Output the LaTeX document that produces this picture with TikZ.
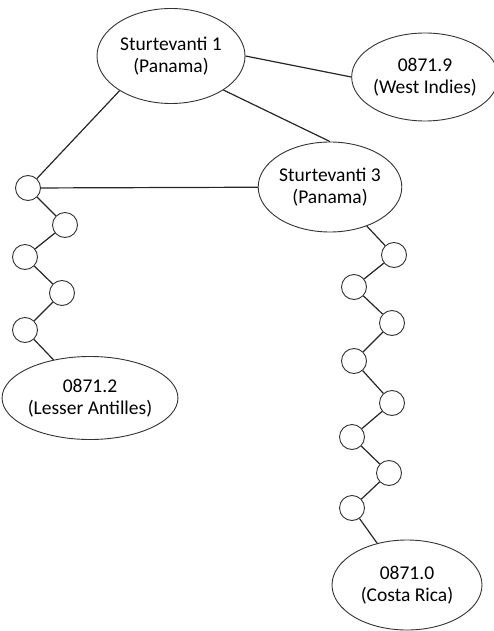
\documentclass[tikz,border=0pt]{standalone}
\usepackage{fontspec}
\setmainfont{Carlito}
\usetikzlibrary{shapes.geometric}

\begin{document}
\begin{tikzpicture}[x=1pt,y=-1pt,
    isolate/.style={ellipse,draw=black!80,line width=.9pt,inner sep=0pt,fill=white,
                    align=center,font=\fontsize{19.5}{22.5}\selectfont},
    missing/.style={circle,draw=black!80,line width=.9pt,fill=white,
                    minimum size=25pt,inner sep=0pt},
    link/.style={line width=1.2pt,black!85}]
    \useasboundingbox (0,0) rectangle (493,631);
    % sampled haplotypes
    \node[isolate,minimum width=148pt,minimum height=95pt] (stu1) at (171,56) {Sturtevanti 1\\(Panama)};
    \node[isolate,minimum width=132pt,minimum height=88pt] (westind) at (425,77) {0871.9\\(West Indies)};
    \node[isolate,minimum width=141pt,minimum height=90pt] (stu3) at (330,187) {Sturtevanti 3\\(Panama)};
    \node[isolate,minimum width=146pt,minimum height=83pt] (lesser) at (90,398) {0871.2\\(Lesser Antilles)};
    \node[isolate,minimum width=150pt,minimum height=90pt] (costa) at (407,585) {0871.0\\(Costa Rica)};
    % missing haplotypes
    \foreach \n/\x/\y in {1/28/188,2/65/225,3/25/257,4/62/293,5/25/330}
      \node[missing] (l\n) at (\x,\y) {};
    \foreach \n/\x/\y in {1/394/255,2/354/287,3/392/323,4/354/361,5/392/403,6/352/437,7/389/473,8/352/508}
      \node[missing] (r\n) at (\x,\y) {};
    % links
    \draw[link] (stu1.east) -- (westind.west);
    \draw[link] (stu1.-33) -- (stu3.north);
    \draw[link] (stu1.214) -- (l1);
    \draw[link] (l1) -- (stu3);
    \foreach \a/\b in {1/2,2/3,3/4,4/5}
      \draw[link] (l\a) -- (l\b);
    \draw[link] (l5) -- (lesser);
    \draw[link] (stu3) -- (r1);
    \foreach \a/\b in {1/2,2/3,3/4,4/5,5/6,6/7,7/8}
      \draw[link] (r\a) -- (r\b);
    \draw[link] (r8) -- (costa);
\end{tikzpicture}
\end{document}
